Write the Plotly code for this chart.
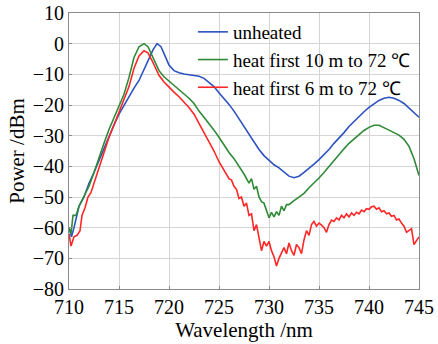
import plotly.graph_objects as go

# ---- data ----
wl_blue = [710, 710.25, 710.5, 711, 711.5, 712, 712.5, 713, 713.5, 714, 714.5, 715, 715.5, 716, 716.5, 717, 717.5, 718, 718.4, 718.8, 719.2, 719.6, 720, 720.5, 721, 721.5, 722, 722.5, 723, 723.5, 724, 724.5, 725, 725.5, 726, 726.5, 727, 727.5, 728, 728.5, 729, 729.5, 730, 730.5, 731, 731.5, 732, 732.5, 733, 733.5, 734, 734.5, 735, 735.5, 736, 736.5, 737, 737.5, 738, 738.5, 739, 739.5, 740, 740.5, 741, 741.5, 742, 742.5, 743, 743.5, 744, 744.5, 745]
p_blue = [-60, -63, -60, -53, -50, -45.5, -42, -38, -34, -30, -26.5, -23, -20, -17, -14.5, -12, -8.5, -5, -2, 0, -1, -4, -7, -8.8, -9.5, -9.9, -10.1, -10.3, -10.6, -11.3, -12.5, -14, -16, -17.8, -19.8, -22, -24.5, -27, -29.5, -32, -34.5, -36.5, -38, -39.5, -40.5, -42, -43.2, -43.7, -43.2, -42, -40.8, -39.3, -37.8, -36.2, -34.5, -32.5, -30.8, -29, -27, -25.3, -23.8, -22.2, -20.8, -19.5, -18.5, -17.8, -17.5, -17.8, -18.5, -19.5, -21, -22.3, -24]

wl_green = [710, 710.2, 710.4, 710.7, 711, 711.3, 711.6, 712, 712.5, 713, 713.5, 714, 714.5, 715, 715.5, 716, 716.5, 717, 717.5, 717.9, 718.3, 718.7, 719, 719.5, 720, 720.5, 721, 721.5, 722, 722.5, 723, 723.5, 724, 724.5, 725, 725.5, 726, 726.5, 727, 727.5, 728, 728.25, 728.5, 728.75, 729, 729.25, 729.5, 729.75, 730, 730.25, 730.5, 730.75, 731, 731.25, 731.5, 731.75, 732, 732.5, 733, 733.5, 734, 734.5, 735, 735.5, 736, 736.5, 737, 737.5, 738, 738.5, 739, 739.5, 740, 740.5, 741, 741.5, 742, 742.5, 743, 743.5, 744, 744.5, 745]
p_green = [-60, -62, -56, -56, -53, -51, -49.5, -46.5, -42, -37, -32.5, -28, -24, -20.5, -16.5, -11, -4.5, -1, 0, -1, -3.8, -6.5, -8.8, -10.8, -12.2, -13.5, -14.8, -16.3, -17.8, -19.5, -22, -24, -26, -28.2, -30.5, -33, -35.5, -37.5, -40, -42.5, -45.5, -44, -47.5, -46.5, -50, -51.5, -52, -54.5, -56.8, -55, -56.5, -54.8, -56, -53, -54.5, -52.5, -52.5, -51.2, -50, -48.8, -47, -45.5, -43.8, -42, -40, -38.2, -36.2, -34.3, -32.5, -31, -29.5, -28.3, -27.3, -26.6, -26.6, -27.3, -28.2, -29, -29.8, -31.2, -33.5, -37.5, -43]

wl_red = [710, 710.2, 710.5, 710.8, 711.1, 711.3, 711.6, 711.9, 712.2, 712.5, 713, 713.5, 714, 714.5, 715, 715.5, 716, 716.5, 717, 717.5, 717.9, 718.3, 718.7, 719, 719.5, 720, 720.5, 721, 721.5, 722, 722.5, 723, 723.5, 724, 724.5, 725, 725.5, 726, 726.25, 726.5, 726.75, 727, 727.25, 727.5, 727.75, 728, 728.25, 728.5, 728.75, 729, 729.25, 729.5, 729.75, 730, 730.25, 730.5, 730.75, 731, 731.25, 731.5, 731.75, 732, 732.25, 732.5, 732.75, 733, 733.25, 733.5, 733.75, 734, 734.25, 734.5, 734.75, 735, 735.25, 735.5, 735.75, 736, 736.25, 736.5, 736.75, 737, 737.25, 737.5, 737.75, 738, 738.25, 738.5, 738.75, 739, 739.25, 739.5, 739.75, 740, 740.25, 740.5, 740.75, 741, 741.25, 741.5, 741.75, 742, 742.25, 742.5, 742.75, 743, 743.25, 743.5, 743.75, 744, 744.25, 744.5, 744.75, 745]
p_red = [-62, -66, -63, -62.5, -61, -56, -53.5, -50, -48.5, -45.5, -40.5, -35, -30.5, -26.5, -22.5, -18.5, -14, -8, -4, -2.3, -3, -5.5, -8.3, -10.3, -12.5, -14.3, -15.8, -17.3, -19, -20.8, -23, -26, -28.8, -31.8, -35, -38.5, -41.5, -44, -44.5, -46.5, -47.5, -50.5, -50, -53, -52, -56, -55.5, -61, -59, -63.5, -67.5, -64.5, -66, -64.5, -67.5, -69.5, -72.5, -70, -68, -66.5, -68.5, -65, -67.5, -69, -65.5, -66.5, -68.5, -64, -61, -62.5, -59, -58, -59.5, -58.5, -59.2, -60, -61.5, -59, -57.5, -58, -56.8, -57.5, -56, -56.8, -55.5, -56.5, -55.2, -56, -55, -55.5, -54.3, -54.8, -53.8, -54, -53.2, -53, -54, -53.5, -54.8, -54.5, -55.5, -55.2, -56.3, -56, -57.5, -57.2, -58.5, -59.5, -61.5, -61, -60.3, -65.5, -64, -63]

names = ["unheated", "heat first 10 m to 72 ℃", "heat first 6 m to 72 ℃"]
colors = ["#2b52bf", "#2f8a36", "#ff2626"]

x_ticks = [710, 715, 720, 725, 730, 735, 740, 745]
y_ticks = [10, 0, -10, -20, -30, -40, -50, -60, -70, -80]

fig = go.Figure()
for wl, p, n, c in zip([wl_blue, wl_green, wl_red], [p_blue, p_green, p_red], names, colors):
    fig.add_trace(go.Scatter(x=wl, y=p, mode="lines", name=n,
                             line=dict(color=c, width=1.6)))

axis_common = dict(showgrid=True, gridcolor="#d4d4d4", gridwidth=1,
                   showline=True, linecolor="#8a8a8a", linewidth=1, mirror=True,
                   ticks="inside", ticklen=3, tickcolor="#8a8a8a",
                   zeroline=False, automargin=False,
                   tickfont=dict(family="Liberation Serif", size=20))

fig.update_layout(
    width=438, height=344,
    margin=dict(l=69, r=19, t=13, b=55),
    paper_bgcolor="white", plot_bgcolor="white",
    font=dict(family="Liberation Serif", size=20, color="black"),
    showlegend=True,
    legend=dict(x=0.354, xanchor="left", y=1.0, yanchor="top",
                bgcolor="rgba(0,0,0,0)", borderwidth=0,
                font=dict(family="Liberation Serif", size=19),
                tracegroupgap=0, itemwidth=30),
    xaxis=dict(range=[710, 745], tickvals=x_ticks,
               title=dict(text="Wavelength /nm", font=dict(family="Liberation Serif", size=21), standoff=0),
               **axis_common),
    yaxis=dict(range=[-80, 10], tickvals=y_ticks,
               ticktext=[str(v).replace("-", "\u2212") for v in y_ticks],
               title=dict(text="Power /dBm", font=dict(family="Liberation Serif", size=21), standoff=2),
               **axis_common),
)

fig.write_html("out.html")
